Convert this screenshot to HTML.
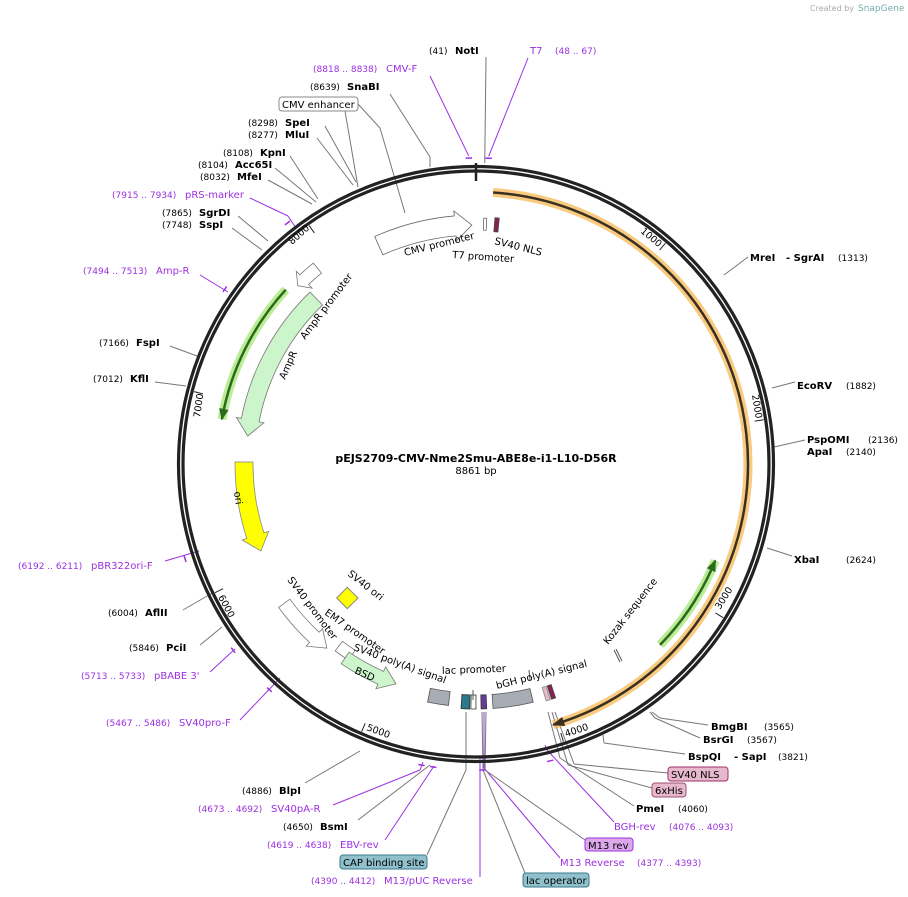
<!DOCTYPE html>
<html><head><meta charset="utf-8"><style>
html,body{margin:0;padding:0;background:#fff;}
svg{display:block;font-family:"DejaVu Sans","Liberation Sans",sans-serif;}
.e{font-size:10px;font-weight:bold;fill:#000}
.n{font-size:9px;fill:#000}
.p{font-size:10px;fill:#9b30e0}
.pn{font-size:9px;fill:#9b30e0}
.f{font-size:10px;fill:#000}
.t{font-size:9.5px;fill:#000}
</style></head><body>
<svg id="s" width="908" height="897" viewBox="0 0 908 897" xmlns="http://www.w3.org/2000/svg">
<text x="810" y="11" font-size="8" fill="#aaa">Created by</text><text x="858" y="11" font-size="9" fill="#7aa">SnapGene</text>
<g id="g"></g>
<!-- center -->
<text x="476" y="462" text-anchor="middle" font-size="11" font-weight="bold">pEJS2709-CMV-Nme2Smu-ABE8e-i1-L10-D56R</text>
<text x="476" y="474" text-anchor="middle" font-size="10">8861 bp</text>
<!-- top labels -->
<text x="429" y="54" class="n">(41)</text><text x="455" y="54" class="e">NotI</text>
<text x="530" y="54" class="p">T7</text><text x="555" y="54" class="pn">(48 .. 67)</text>
<text x="313" y="72" class="pn">(8818 .. 8838)</text><text x="386" y="72" class="p">CMV-F</text>
<text x="310" y="90" class="n">(8639)</text><text x="347" y="90" class="e">SnaBI</text>
<rect x="279" y="97" width="79" height="14" rx="3" fill="#fff" stroke="#888"/><text x="282" y="108" class="f">CMV enhancer</text>
<text x="248" y="126" class="n">(8298)</text><text x="285" y="126" class="e">SpeI</text>
<text x="248" y="138" class="n">(8277)</text><text x="285" y="138" class="e">MluI</text>
<text x="223" y="156" class="n">(8108)</text><text x="260" y="156" class="e">KpnI</text>
<text x="198" y="168" class="n">(8104)</text><text x="235" y="168" class="e">Acc65I</text>
<text x="200" y="180" class="n">(8032)</text><text x="237" y="180" class="e">MfeI</text>
<text x="112" y="198" class="pn">(7915 .. 7934)</text><text x="185" y="198" class="p">pRS-marker</text>
<text x="162" y="216" class="n">(7865)</text><text x="199" y="216" class="e">SgrDI</text>
<text x="162" y="228" class="n">(7748)</text><text x="199" y="228" class="e">SspI</text>
<text x="83" y="274" class="pn">(7494 .. 7513)</text><text x="156" y="274" class="p">Amp-R</text>
<text x="99" y="346" class="n">(7166)</text><text x="136" y="346" class="e">FspI</text>
<text x="93" y="382" class="n">(7012)</text><text x="130" y="382" class="e">KflI</text>
<text x="18" y="569" class="pn">(6192 .. 6211)</text><text x="91" y="569" class="p">pBR322ori-F</text>
<text x="108" y="616" class="n">(6004)</text><text x="145" y="616" class="e">AflII</text>
<text x="129" y="651" class="n">(5846)</text><text x="166" y="651" class="e">PciI</text>
<text x="81" y="679" class="pn">(5713 .. 5733)</text><text x="154" y="679" class="p">pBABE 3'</text>
<text x="106" y="726" class="pn">(5467 .. 5486)</text><text x="179" y="726" class="p">SV40pro-F</text>
<text x="242" y="794" class="n">(4886)</text><text x="279" y="794" class="e">BlpI</text>
<text x="198" y="812" class="pn">(4673 .. 4692)</text><text x="271" y="812" class="p">SV40pA-R</text>
<text x="283" y="830" class="n">(4650)</text><text x="320" y="830" class="e">BsmI</text>
<text x="267" y="848" class="pn">(4619 .. 4638)</text><text x="340" y="848" class="p">EBV-rev</text>
<rect x="340" y="855" width="87" height="14" rx="3" fill="#8fc0cc" stroke="#3a7a8a"/><text x="343" y="866" class="f">CAP binding site</text>
<text x="311" y="884" class="pn">(4390 .. 4412)</text><text x="384" y="884" class="p">M13/pUC Reverse</text>
<rect x="523" y="873" width="66" height="14" rx="3" fill="#8fc0cc" stroke="#3a7a8a"/><text x="526" y="884" class="f">lac operator</text>
<text x="560" y="866" class="p">M13 Reverse</text><text x="637" y="866" class="pn">(4377 .. 4393)</text>
<rect x="585" y="838" width="48" height="13" rx="3" fill="#dca8ec" stroke="#9b30e0"/><text x="588" y="849" class="f">M13 rev</text>
<text x="614" y="830" class="p">BGH-rev</text><text x="669" y="830" class="pn">(4076 .. 4093)</text>
<text x="636" y="812" class="e">PmeI</text><text x="678" y="812" class="n">(4060)</text>
<rect x="652" y="783" width="34" height="14" rx="3" fill="#e6b8cc" stroke="#a05070"/><text x="655" y="794" class="f">6xHis</text>
<rect x="668" y="767" width="60" height="14" rx="3" fill="#e6b8cc" stroke="#a0306a"/><text x="671" y="778" class="f">SV40 NLS</text>
<text x="688" y="760" class="e">BspQI</text><text x="734" y="760" class="e">- SapI</text><text x="778" y="760" class="n">(3821)</text>
<text x="703" y="743" class="e">BsrGI</text><text x="747" y="743" class="n">(3567)</text>
<text x="711" y="730" class="e">BmgBI</text><text x="764" y="730" class="n">(3565)</text>
<text x="794" y="563" class="e">XbaI</text><text x="846" y="563" class="n">(2624)</text>
<text x="807" y="443" class="e">PspOMI</text><text x="868" y="443" class="n">(2136)</text>
<text x="807" y="455" class="e">ApaI</text><text x="846" y="455" class="n">(2140)</text>
<text x="797" y="389" class="e">EcoRV</text><text x="846" y="389" class="n">(1882)</text>
<text x="750" y="261" class="e">MreI</text><text x="786" y="261" class="e">- SgrAI</text><text x="838" y="261" class="n">(1313)</text>
<!-- feature labels -->
<text class="f" transform="translate(405,256) rotate(-14)">CMV promoter</text>
<text class="f" transform="translate(452,258) rotate(4)">T7 promoter</text>
<text class="f" transform="translate(494,244) rotate(14)">SV40 NLS</text>
<text class="f" transform="translate(305,340) rotate(-53)">AmpR promoter</text>
<text class="f" transform="translate(285,380) rotate(-66)">AmpR</text>
<text class="f" transform="translate(234,492) rotate(82)">ori</text>
<text class="f" transform="translate(608,645) rotate(-52)">Kozak sequence</text>
<text class="f" transform="translate(497,689) rotate(-14)">bGH poly(A) signal</text>
<text class="f" transform="translate(442,674) rotate(-2)">lac promoter</text>
<text class="f" transform="translate(353,650) rotate(20)">SV40 poly(A) signal</text>
<text class="f" transform="translate(324,614) rotate(35)">EM7 promoter</text>
<text class="f" transform="translate(287,580) rotate(53)">SV40 promoter</text>
<text class="f" transform="translate(347,575) rotate(38)">SV40 ori</text>
<text class="f" transform="translate(354,673) rotate(24)">BSD</text>
<text class="t" transform="translate(640,232) rotate(40)">1000</text>
<text class="t" transform="translate(752,395) rotate(81)">2000</text>
<text class="t" transform="translate(720,610) rotate(-58)">3000</text>
<text class="t" transform="translate(566,737) rotate(-18)">4000</text>
<text class="t" transform="translate(366,730) rotate(20)">5000</text>
<text class="t" transform="translate(218,597) rotate(62)">6000</text>
<text class="t" transform="translate(200,418) rotate(-82)">7000</text>
<text class="t" transform="translate(292,245) rotate(-42)">8000</text>
</svg>
<script>
var cx=476,cy=464,NS="http://www.w3.org/2000/svg",g=document.getElementById("g");
function P(r,a){a=a*Math.PI/180;return [cx+r*Math.sin(a),cy-r*Math.cos(a)];}
function el(t,at){var e=document.createElementNS(NS,t);for(var k in at)e.setAttribute(k,at[k]);g.appendChild(e);return e;}
function arcD(r,a1,a2){var p=P(r,a1),q=P(r,a2),l=Math.abs(a2-a1)>180?1:0,s=a2>a1?1:0;return "M"+p+" A"+r+","+r+" 0 "+l+" "+s+" "+q;}
function arc(r,a1,a2,c,w,o){el("path",{d:arcD(r,a1,a2),fill:"none",stroke:c,"stroke-width":w,"stroke-opacity":o||1});}
function line(x1,y1,x2,y2,c){el("line",{x1:x1,y1:y1,x2:x2,y2:y2,stroke:c||"#777","stroke-width":1});}
function lineA(x,y,a,r,c){var p=P(r||301,a);line(x,y,p[0],p[1],c);}
function feat(r,w,a1,a2,h,fill,st){
 var d=a2>a1?1:-1,b=a2-d*h,ro=r+w/2,ri=r-w/2,s=d>0?1:0,ns=1-s;
 var p1=P(ro,a1),p2=P(ro,b),p3=P(ro+5,b),t=P(r,a2),p4=P(ri-5,b),p5=P(ri,b),p6=P(ri,a1);
 var path="M"+p1+" A"+ro+","+ro+" 0 0 "+s+" "+p2;
 if(h>0) path+=" L"+p3+" L"+t+" L"+p4+" L"+p5; else path+=" L"+p5;
 path+=" A"+ri+","+ri+" 0 0 "+ns+" "+p6+" Z";
 el("path",{d:path,fill:fill,stroke:st||"#666","stroke-width":0.8});
}
function aline(r,a1,a2,c,hl){
 arc(r,a1,a2,hl,9,0.7); arc(r,a1,a2,c,2.5);
 var d=a2>a1?1:-1,t=P(r,a2),p=P(r+4,a2-d*2.2),q=P(r-4,a2-d*2.2);
 el("path",{d:"M"+p+" L"+t+" L"+q+" Z",fill:c,stroke:c});
}
var A=function(pos){return pos/8861*360;};
lineA(486,57,A(41),301);
lineA(528,58,A(58),308,"#9b30e0");
lineA(430,76,A(8828)-360,308,"#9b30e0");
line(390,94,430,157);line(430,157,430,167);
line(358,104,380,128);line(380,128,405,213);
line(345,111,358,187);
line(325,126,356,182);line(317,138,353,185);
line(290,156,318,199);line(275,168,316,202);line(268,180,312,204);
line(250,198,288,216,"#9b30e0");line(288,216,296,228,"#9b30e0");
line(238,216,268,241);line(232,228,262,250);
line(200,275,228,292,"#9b30e0");
line(170,346,197,356);line(155,382,186,386);
line(165,561,199,551,"#9b30e0");
line(183,610,214,592);line(200,645,222,627);
line(210,672,235,649,"#9b30e0");line(240,720,280,678,"#9b30e0");
line(305,783,360,751);line(333,805,420,770,"#9b30e0");line(420,770,423,762,"#9b30e0");
line(358,820,430,765);line(385,840,434,766,"#9b30e0");
line(427,855,466,770);line(466,770,466,712);
line(480,877,480,756,"#9b30e0");
line(525,873,483,770);line(483,770,482,712);
line(560,858,484,768,"#9b30e0");line(484,768,484,712,"#9b30e0");
line(585,840,485,770);line(485,770,486,712);
line(614,822,547,750,"#9b30e0");line(547,750,545,745,"#9b30e0");
line(634,806,560,758);line(560,758,548,712);
line(652,788,568,765);line(568,765,552,712);
line(668,773,574,764);line(574,764,555,712);
line(685,754,604,743);line(604,743,603,735);
line(700,738,655,718);line(655,718,650,712);
line(708,725,660,718);line(660,718,652,712);
line(792,556,767,548);line(805,440,774,447);line(795,382,772,388);line(748,257,724,275);
el("circle",{cx:cx,cy:cy,r:297.5,fill:"none",stroke:"#222","stroke-width":3.2});
el("circle",{cx:cx,cy:cy,r:293,fill:"none",stroke:"#222","stroke-width":3.2});
[1000,2000,3000,4000,5000,6000,7000,8000].forEach(function(v){var a=A(v),p=P(291,a),q=P(282,a);line(p[0],p[1],q[0],q[1],"#222");});
var p=P(301,0),q=P(283,0);el("line",{x1:p[0],y1:p[1],x2:q[0],y2:q[1],stroke:"#222","stroke-width":2.5});
[[8828-8861],[58],[7925-8861],[7503-8861],[6201-8861],[5723-8861],[5476-8861],[4683],[4628],[4401],[4085]].forEach(function(m){var a=A(m[0]);arc(306,a-0.6,a+0.6,"#9b30e0",1.5);});
aline(272,3.6,163.5,"#3a3020","#f7b54a");
aline(258,134.5,112,"#2d6a1e","#9ee66a");
aline(258,-47.5,-80,"#2d6a1e","#9ee66a");
feat(239,20,-24,-1,4,"#fff","#666");
feat(240,12,1.8,2.5,0,"#fff","#666");
feat(240,14,4.4,5.4,0,"#8a2050","#444");
feat(230,18,-44,-83,4,"#ccf5cc","#777");
feat(252,13,-39,-45,2,"#fff","#777");
feat(232,18,-89.5,-112,4,"#ffff00","#888");
feat(237,14,-126,-141,4,"#fff","#777");
feat(228,12,-143,-147,0,"#fff","#777");
feat(234,14,-146,-160,4,"#ccf5cc","#777");
feat(236,14,-168.5,-173.5,0,"#a8acb4","#555");
feat(238,14,-176.5,-178.5,0,"#2a7a8a","#333");
feat(238,14,-178.8,-179.99,0,"#fff","#333");
feat(238,14,178.8,177.5,0,"#6a3a9a","#333");
feat(238,14,176,166.5,0,"#a8acb4","#555");
feat(240,14,163.5,162.5,0,"#e6b8cc","#888");
feat(240,14,162.2,161.2,0,"#8a2050","#444");
el("rect",{x:340,y:591,width:15,height:15,fill:"#ffff00",stroke:"#888",transform:"rotate(45 348 598)"});
line(614,650,620,662,"#555");line(616,649,622,661,"#555");
line(473,690,473,700,"#555");line(529,670,530,680,"#555");
</script>
</body></html>
